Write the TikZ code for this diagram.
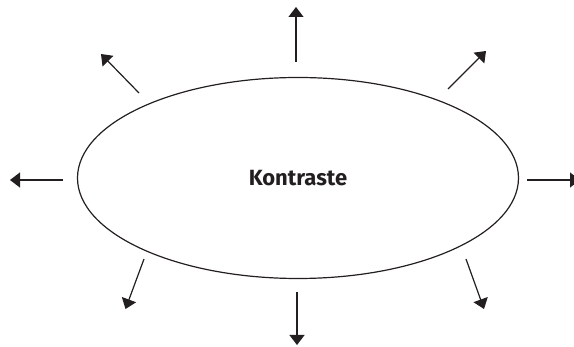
\documentclass[tikz,border=0pt]{standalone}
\usepackage{fontspec}
\setmainfont{Fira Sans}
\usepackage{tikz, xcolor}
\usetikzlibrary{arrows.meta, shapes.geometric}
\definecolor{ink}{RGB}{35,31,32}

\begin{document}
\begin{tikzpicture}[x=1pt, y=-1pt, line width=1.2pt, draw=ink,
    pfeil/.style={-{Triangle[width=15pt, length=10pt]}, ink},
    oval/.style={ellipse, draw=ink, line width=1.2pt, inner sep=0pt, minimum width=441pt, minimum height=201pt, font=\bfseries\fontsize{22}{26}\selectfont, text=ink}]

    \useasboundingbox (0,0) rectangle (574,347);

    \node[oval] (kontrast) at (298,178) {Kontraste};

    \coordinate (a1) at (296,62);  \coordinate (b1) at (296,7);
    \coordinate (a2) at (448,89);  \coordinate (b2) at (486,51);
    \coordinate (a3) at (527,180); \coordinate (b3) at (580,180);
    \coordinate (a4) at (466,259); \coordinate (b4) at (484,309);
    \coordinate (a5) at (297,292); \coordinate (b5) at (297,345);
    \coordinate (a6) at (144,259); \coordinate (b6) at (125.5,309);
    \coordinate (a7) at (63,180);  \coordinate (b7) at (10,180);
    \coordinate (a8) at (139,93);  \coordinate (b8) at (101,54);

    \foreach \i in {1,...,8}
        \draw[pfeil] (a\i) -- (b\i);
\end{tikzpicture}
\end{document}
